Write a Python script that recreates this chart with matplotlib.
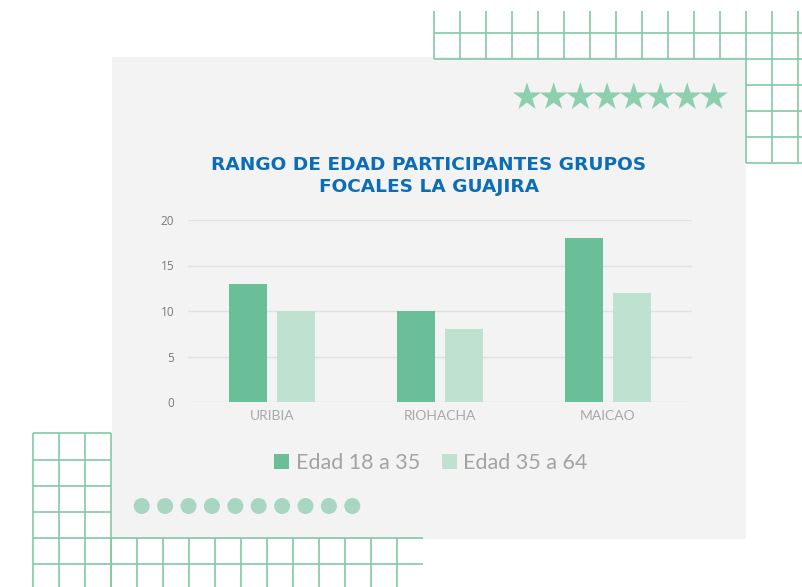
import matplotlib.pyplot as plt
from matplotlib.patches import Rectangle, Circle

W, H = 802, 587

categories = ["URIBIA", "RIOHACHA", "MAICAO"]
edad_18_35 = [13, 10, 18]
edad_35_64 = [10, 8, 12]
series_labels = ["Edad 18 a 35", "Edad 35 a 64"]
yticks = [0, 5, 10, 15, 20]
title = "RANGO DE EDAD PARTICIPANTES GRUPOS\nFOCALES LA GUAJIRA"

DARK = "#6abf98"
LIGHT = "#bfe1d0"
DECO = "#84c8a7"
STAR = "#8dcfaf"
DOT = "#a8d6c0"
PANEL = "#f3f3f3"
BLUE = "#0b6cb8"


def px(x, y):
    """pixel (from top-left) -> figure fraction"""
    return x / W, 1 - y / H


def grid_lines(ax, xs, ys, x_span, y_span):
    for x in xs:
        ax.plot([x, x], y_span, color=DECO, lw=1.2, solid_capstyle="butt")
    for y in ys:
        ax.plot(x_span, [y, y], color=DECO, lw=1.2, solid_capstyle="butt")


def draw_decor(bg):
    bg.set_xlim(0, W)
    bg.set_ylim(H, 0)
    bg.axis("off")

    # grey paper panel
    bg.add_patch(Rectangle((112, 57), 634, 482, facecolor=PANEL, edgecolor="none", zorder=0))

    # top-right grid
    grid_lines(bg, [434 + 26 * k for k in range(15)], [], None, (11, 58.7))
    grid_lines(bg, [], [32.7, 58.7], (434, 802), None)
    grid_lines(bg, [746, 772, 798], [85, 111, 137, 162.7], (746, 802), (58.7, 162.7))

    # bottom-left grid
    grid_lines(bg, [33.3, 59.3, 85.3, 111.3], [433.3, 459.7, 485.7, 511.7], (33.3, 111.3), (433.3, 587))
    grid_lines(bg, [111.3 + 26 * k for k in range(12)], [537.7, 563.7], (33.3, 423.3), (537.7, 587))

    # stars
    sx = [527 + 26.7 * k for k in range(8)]
    bg.scatter(sx, [97] * 8, marker="*", s=450, color=STAR, edgecolor="none", zorder=3)

    # dots
    for k in range(10):
        bg.add_patch(Circle((141.7 + 23.4 * k, 506), 8, facecolor=DOT, edgecolor="none", zorder=3))


def main():
    fig = plt.figure(figsize=(W / 100, H / 100), dpi=100)
    fig.patch.set_facecolor("white")

    bg = fig.add_axes([0, 0, 1, 1], zorder=0)
    draw_decor(bg)

    x0, y0 = px(188, 402)
    x1, y1 = px(692, 220)
    ax = fig.add_axes([x0, y0, x1 - x0, y1 - y0], zorder=1)
    ax.set_facecolor("none")

    w = 0.224
    off = 0.143
    xs = range(len(categories))
    ax.bar([i - off for i in xs], edad_18_35, width=w, color=DARK, label=series_labels[0], zorder=3)
    ax.bar([i + off for i in xs], edad_35_64, width=w, color=LIGHT, label=series_labels[1], zorder=3)

    ax.set_xlim(-0.5, 2.5)
    ax.set_ylim(0, 20)
    ax.set_yticks(yticks)
    ax.set_xticks(list(xs), categories)
    ax.grid(axis="y", color="#e0e0e0", lw=1.0, zorder=0)
    for s in ax.spines.values():
        s.set_visible(False)
    ax.tick_params(axis="y", length=0, pad=10, labelsize=8.5, labelcolor="#7a7a7a")
    ax.tick_params(axis="x", length=0, pad=6, labelsize=10, labelcolor="#a8a8a8")
    for lab in ax.get_xticklabels():
        lab.set_fontfamily("Lato")
    for lab in ax.get_yticklabels():
        lab.set_fontfamily("Open Sans")

    tx, ty = px(429, 176)
    fig.text(tx, ty, title, ha="center", va="center", color=BLUE, fontsize=13.3,
             fontweight="bold", family="DejaVu Sans", linespacing=1.35)

    lx, ly = px(431, 463)
    leg = fig.legend(loc="center", bbox_to_anchor=(lx, ly), ncol=2, frameon=False,
                     handlelength=0.7, handleheight=0.7, handletextpad=0.3,
                     columnspacing=1.0,
                     prop={"family": "Lato", "size": 15.5})
    for t in leg.get_texts():
        t.set_color("#a3a3a3")

    fig.savefig("out.png", dpi=100)
    plt.close(fig)


if __name__ == "__main__":
    main()
